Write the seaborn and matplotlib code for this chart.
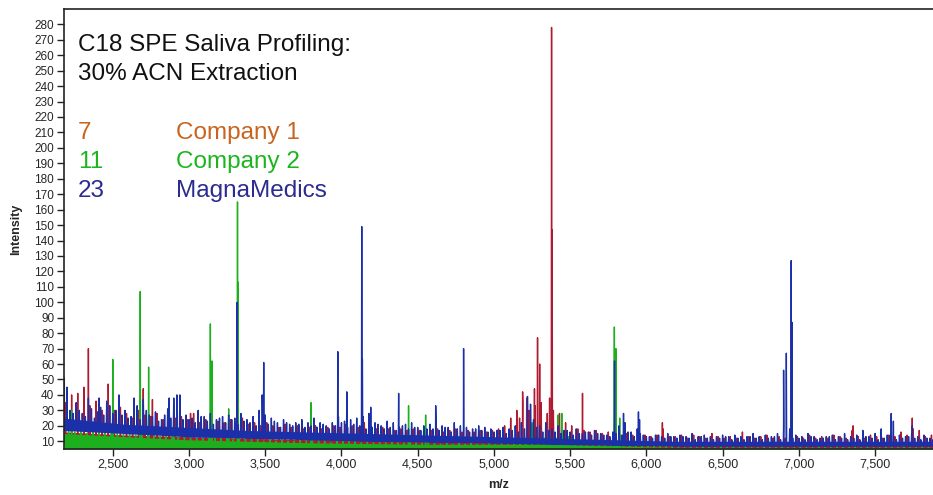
import numpy as np
import pandas as pd
import seaborn as sns
import matplotlib.pyplot as plt
from matplotlib.ticker import FuncFormatter

grid_start, grid_step, n_grid = 2180, 40, 143

blue_top = [45, 30, 35, 28, 38, 25, 32, 36, 28, 40,
            30, 26, 33, 37, 27, 29, 24, 31, 38, 40,
            27, 25, 30, 26, 28, 24, 26, 27, 25, 28,
            24, 26, 30, 27, 25, 22, 24, 21, 22, 24,
            22, 25, 22, 20, 22, 26, 23, 24, 25, 26,
            28, 22, 20, 23, 22, 19, 21, 22, 19, 20,
            21, 24, 20, 19, 22, 20, 19, 18, 20, 19,
            18, 17, 19, 18, 20, 22, 25, 24, 20, 22,
            18, 20, 17, 16, 18, 15, 16, 17, 15, 14,
            16, 20, 22, 16, 18, 14, 13, 14, 13, 15,
            13, 14, 13, 15, 13, 14, 13, 13, 14, 13,
            14, 13, 13, 15, 13, 14, 13, 15, 20, 18,
            14, 13, 15, 13, 12, 13, 14, 13, 15, 13,
            14, 17, 13, 15, 18, 14, 17, 14, 13, 15,
            13, 14, 12]
# second set of (lower) blue noise spikes, half way between the first
blue_top2 = [33, 28, 30, 26, 31, 29, 27, 33, 30, 27,
             25, 28, 24, 30, 26, 23, 27, 25, 29, 24,
             24, 22, 26, 23, 21, 25, 22, 24, 21, 23,
             22, 20, 24, 21, 23, 19, 22, 20, 21, 19,
             20, 19, 21, 18, 20, 22, 19, 21, 20, 18,
             19, 21, 18, 19, 17, 20, 18, 19, 17, 18,
             18, 17, 19, 16, 18, 17, 16, 18, 17, 16,
             16, 17, 15, 17, 16, 18, 17, 19, 16, 17,
             16, 15, 17, 14, 15, 16, 14, 15, 14, 13,
             15, 14, 16, 13, 15, 13, 12, 14, 12, 13,
             12, 13, 12, 11, 13, 12, 11, 12, 13, 11,
             12, 11, 13, 12, 11, 12, 13, 11, 14, 12,
             12, 11, 13, 11, 12, 13, 11, 12, 11, 12,
             11, 13, 12, 11, 12, 14, 11, 12, 13, 12,
             11, 12, 11]
red_top = [35, 32, 38, 40, 33, 36, 30, 35, 30, 32,
           28, 25, 30, 27, 26, 28, 24, 27, 25, 26,
           24, 28, 22, 24, 21, 23, 22, 24, 22, 25,
           21, 22, 20, 22, 20, 19, 21, 19, 20, 18,
           19, 20, 18, 19, 20, 19, 21, 20, 19, 22,
           20, 18, 19, 18, 17, 18, 17, 18, 17, 18,
           17, 18, 16, 17, 18, 16, 17, 16, 17, 16,
           17, 18, 20, 25, 30, 35, 30, 33, 35, 28,
           30, 28, 22, 20, 18, 17, 16, 17, 15, 16,
           15, 14, 15, 14, 13, 14, 13, 14, 18, 13,
           13, 14, 12, 14, 13, 12, 15, 13, 12, 13,
           12, 16, 13, 12, 13, 14, 12, 13, 12, 15,
           13, 12, 14, 12, 13, 12, 14, 13, 12, 17,
           13, 12, 14, 13, 12, 14, 13, 16, 14, 18,
           17, 13, 14]
green_top = [18, 16, 17, 15, 18, 16, 17, 15, 16, 17,
             15, 14, 16, 14, 15, 13, 14, 16, 13, 14,
             13, 12, 14, 12, 13, 12, 13, 11, 12, 12,
             11, 12, 10, 11, 10, 11, 10, 10, 11, 10,
             10, 11, 10, 9, 10, 11, 10, 10, 9, 10,
             9, 10, 9, 10, 9, 9, 10, 9, 9, 10,
             9, 8, 9, 8, 9, 8, 9, 8, 8, 9,
             8, 9, 8, 9, 10, 12, 10, 11, 12, 10,
             12, 14, 13, 10, 9, 8, 9, 8, 8, 9,
             10, 12, 9, 8, 8, 7, 8, 7, 7, 8,
             7, 6, 7, 6, 7, 6, 6, 7, 6, 7,
             6, 7, 6, 6, 7, 6, 6, 7, 6, 6,
             7, 6, 6, 7, 6, 6, 7, 6, 6, 7,
             6, 7, 6, 6, 7, 6, 6, 7, 6, 6,
             7, 6, 6]

# solid part of each band (lower and upper edge) at m/z 2180, 2580, ..., 7780 and 7880
band_mz = [2180, 2580, 2980, 3380, 3780, 4180, 4580, 4980,
           5380, 5780, 6180, 6580, 6980, 7380, 7780, 7880]
blue_floor = [17, 15, 13, 12, 11, 10, 9.5, 9, 8, 7.5, 7, 7, 7, 7, 7, 7]
blue_core = [25, 21, 19, 17, 16, 15, 14, 13, 12, 11, 10, 10, 10, 10, 10, 10]
red_floor = [9, 8, 8, 7, 7, 7, 6.5, 6.5, 6, 6, 6, 6, 6, 6, 6, 6]
red_core = [16, 14, 13, 12, 11, 11, 10, 11, 10, 9, 8, 8, 8, 8, 8, 8]
green_floor = [5, 5, 5, 5, 5, 5, 5, 5, 5, 5, 5, 5, 5, 5, 5, 5]
green_core = [15, 13, 11, 10, 9, 8.5, 8, 8, 8, 7, 6, 6, 6, 6, 6, 6]

# individual peaks (m/z, intensity)
green_peak_mz = [2230, 2500, 2680, 2735, 2900, 3140, 3150, 3260, 3318, 3322,
                 3800, 4440, 4552, 5250, 5420, 5445, 5790, 5800, 5825]
green_peak_int = [30, 63, 107, 58, 35, 86, 62, 31, 165, 113,
                  35, 33, 27, 22, 27, 28, 84, 70, 25]
red_peak_mz = [2230, 2270, 2310, 2340, 2470, 2700, 2760, 2900, 3010, 5168,
               5188, 5215, 5266, 5286, 5300, 5365, 5378, 5382, 5581, 6105,
               7356, 7744]
red_peak_int = [40, 41, 45, 70, 47, 44, 37, 34, 28, 25,
                42, 38, 44, 77, 60, 38, 278, 147, 41, 22,
                20, 25]
blue_peak_mz = [2182, 2200, 2410, 2640, 2870, 2920, 3316, 3480, 3490, 3976,
                4035, 4133, 4137, 4192, 4375, 4618, 4801, 5220, 5240, 5791,
                5850, 5948, 5955, 6900, 6918, 6950, 6955, 7606, 7620, 7744]
blue_peak_int = [51, 45, 38, 38, 38, 40, 100, 40, 61, 68,
                 42, 149, 63, 32, 41, 33, 70, 39, 34, 62,
                 28, 29, 24, 56, 67, 127, 87, 28, 23, 20]

# drawing order: Company 1 underneath, MagnaMedics on top
series = [
    ('Company 1', [(red_top, 10)], red_floor, red_core, red_peak_mz, red_peak_int, '#B01A30'),
    ('Company 2', [(green_top, 30)], green_floor, green_core, green_peak_mz, green_peak_int, '#1EAF1E'),
    ('MagnaMedics', [(blue_top, 0), (blue_top2, 20)], blue_floor, blue_core,
     blue_peak_mz, blue_peak_int, '#1A2FA8'),
]

grid = grid_start + grid_step * np.arange(n_grid)


def block_of(m):
    return min(int((m - grid_start) // 400), len(band_mz) - 2)


def build_trace(noise_sets, floor, pk_mz, pk_int):
    xs, ys = [], []
    for top, offset in noise_sets:
        for g, v in zip(grid + offset, top):
            b = floor[block_of(g)]
            xs += [g - 3, g, g + 3]
            ys += [b, v, b]
    for m, v in zip(pk_mz, pk_int):
        b = floor[block_of(m)]
        xs += [m - 2, m, m + 2]
        ys += [b, v, b]
    d = pd.DataFrame({'mz': xs, 'intensity': ys})
    return d.sort_values('mz', kind='mergesort')


sns.set_theme(style='white')
plt.rcParams['font.family'] = ['Liberation Sans', 'DejaVu Sans']

fig = plt.figure(figsize=(9.33, 4.95), dpi=100)
ax = fig.add_axes([0.0686, 0.093, 0.9314, 0.889])

for k, (name, noise_sets, floor, core, pmz, pint, col) in enumerate(series):
    ax.fill_between(band_mz, floor, core, color=col, lw=0, zorder=2 + 2 * k)
    d = build_trace(noise_sets, floor, pmz, pint)
    sns.lineplot(data=d, x='mz', y='intensity', ax=ax, color=col,
                 estimator=None, sort=False, lw=1.0, zorder=3 + 2 * k)

ax.set_xlim(2180, 7880)
ax.set_ylim(5, 290)
ax.set_yticks(np.arange(10, 281, 10))
ax.set_xticks(np.arange(2500, 7501, 500))
ax.xaxis.set_major_formatter(FuncFormatter(lambda v, p: f'{int(v):,}'))
ax.tick_params(axis='both', bottom=True, left=True, direction='out',
               length=5, width=1, color='#222222', labelsize=9, pad=2)
ax.tick_params(axis='y', labelsize=8.5)

for s in ['top', 'left', 'bottom']:
    ax.spines[s].set_color('#222222')
    ax.spines[s].set_linewidth(1.2)
    ax.spines[s].set_zorder(10)
ax.spines['right'].set_visible(False)

ax.set_xlabel('m/z', fontsize=9, fontweight='bold', labelpad=6)
ax.set_ylabel('Intensity', fontsize=9, fontweight='bold', labelpad=9)

ax.text(0.016, 0.918, 'C18 SPE Saliva Profiling:', transform=ax.transAxes,
        fontsize=17.5, va='center', color='#111111')
ax.text(0.016, 0.852, '30% ACN Extraction', transform=ax.transAxes,
        fontsize=17.5, va='center', color='#111111')

legend_rows = [('7', 'Company 1', '#C8641E'),
               ('11', 'Company 2', '#1DB51D'),
               ('23', 'MagnaMedics', '#2B2B90')]
for k, (num, label, col) in enumerate(legend_rows):
    yy = 0.719 - k * 0.066
    ax.text(0.016, yy, num, transform=ax.transAxes, fontsize=17.5,
            va='center', color=col)
    ax.text(0.129, yy, label, transform=ax.transAxes, fontsize=17.5,
            va='center', color=col)

fig.savefig('out.png', dpi=100)
